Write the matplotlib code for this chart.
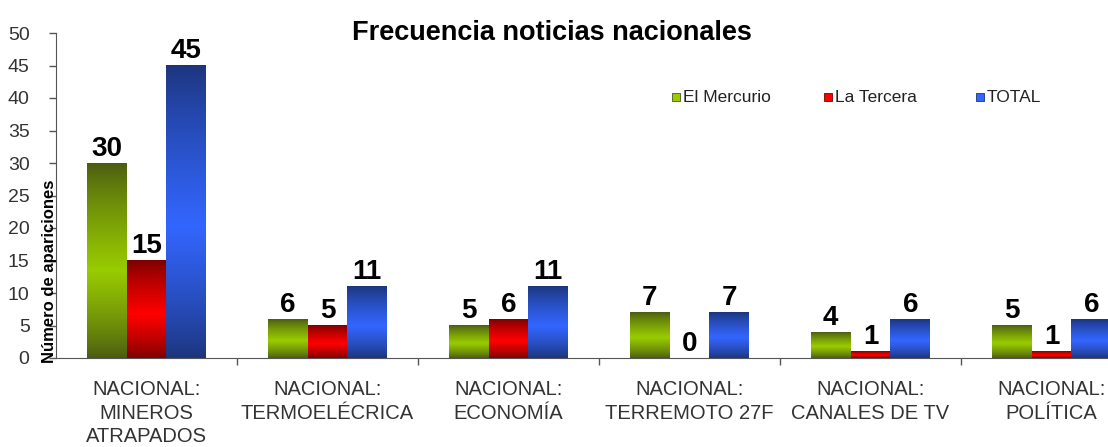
import numpy as np
import matplotlib
matplotlib.use("Agg")
import matplotlib.pyplot as plt
from matplotlib.colors import to_rgb
from matplotlib.patches import Rectangle

categories = [
    "NACIONAL:\nMINEROS\nATRAPADOS",
    "NACIONAL:\nTERMOELÉCRICA",
    "NACIONAL:\nECONOMÍA",
    "NACIONAL:\nTERREMOTO 27F",
    "NACIONAL:\nCANALES DE TV",
    "NACIONAL:\nPOLÍTICA",
]
series_names = ["El Mercurio", "La Tercera", "TOTAL"]
el_mercurio = [30, 6, 5, 7, 4, 5]
la_tercera = [15, 5, 6, 0, 1, 1]
total = [45, 11, 11, 7, 6, 6]
yticks = list(range(0, 51, 5))

# (dark edge colour, bright centre colour) for the gradient fills
palettes = [("#4a5a12", "#99cc00"), ("#7a0000", "#ff0000"), ("#1c347a", "#3366ff")]

plt.rcParams["font.family"] = ["Liberation Sans", "DejaVu Sans"]

W, H = 1108, 447
fig = plt.figure(figsize=(W / 100, H / 100), dpi=100)
left_px, axis_y0, axis_y50, cat_px = 56, 358, 33, 181
ax = fig.add_axes([left_px / W, (H - axis_y0) / H,
                   len(categories) * cat_px / W, (axis_y0 - axis_y50) / H])


def gradient(dark, bright, n=256):
    t = np.linspace(0, 1, n)
    f = np.interp(t, [0, 0.45, 1], [0, 1, 0]) ** 0.8
    d, b = np.array(to_rgb(dark)), np.array(to_rgb(bright))
    return (d + (b - d) * f[:, None])[:, None, :]


bw = 0.22
x = np.arange(len(categories))
for k, vals in enumerate([el_mercurio, la_tercera, total]):
    dark, bright = palettes[k]
    img = gradient(dark, bright)
    for xi, v in zip(x, vals):
        x0 = xi + (k - 1) * bw - bw / 2
        if v > 0:
            ax.imshow(img, extent=(x0, x0 + bw, 0, v), origin="lower",
                      aspect="auto", zorder=2, interpolation="bilinear")
        ax.annotate(str(v), (x0 + bw / 2, v), xytext=(0, 1),
                    textcoords="offset points", ha="center", va="bottom",
                    fontsize=20, fontweight="bold", color="black")

ax.set_xlim(-0.5, len(categories) - 0.5)
ax.set_ylim(0, 50)
ax.set_yticks(yticks)
ax.tick_params(axis="y", length=5, width=1, color="#555555", pad=14,
               labelsize=14, labelcolor="#333333")
ax.set_xticks(x)
ax.set_xticklabels(categories, fontsize=14.5, color="#333333", linespacing=1.3)
ax.set_xticks(np.arange(len(categories)) + 0.5, minor=True)
ax.tick_params(axis="x", which="major", length=0, pad=16)
ax.tick_params(axis="x", which="minor", length=5, width=1, color="#555555")
for s in ["top", "right"]:
    ax.spines[s].set_visible(False)
for s in ["left", "bottom"]:
    ax.spines[s].set_color("#555555")

fig.text(552 / W, 1 - 33 / H, "Frecuencia noticias nacionales", ha="center",
         va="center", fontsize=19.5, fontweight="bold")
fig.text(50 / W, 1 - 271 / H, "Número de apariciones", rotation=90,
         ha="center", va="center", fontsize=12, fontweight="bold")

# legend
leg_x = [672, 824, 976]
for name, (dark, bright), lx in zip(series_names, palettes, leg_x):
    fig.patches.append(Rectangle((lx / W, 1 - 101 / H), 8 / W, 8 / H,
                                 transform=fig.transFigure, facecolor=bright,
                                 edgecolor=dark, linewidth=0.6))
    fig.text((lx + 11) / W, 1 - 97 / H, name, ha="left", va="center",
             fontsize=12.5, color="#222222")

fig.savefig("out.png", dpi=100)
